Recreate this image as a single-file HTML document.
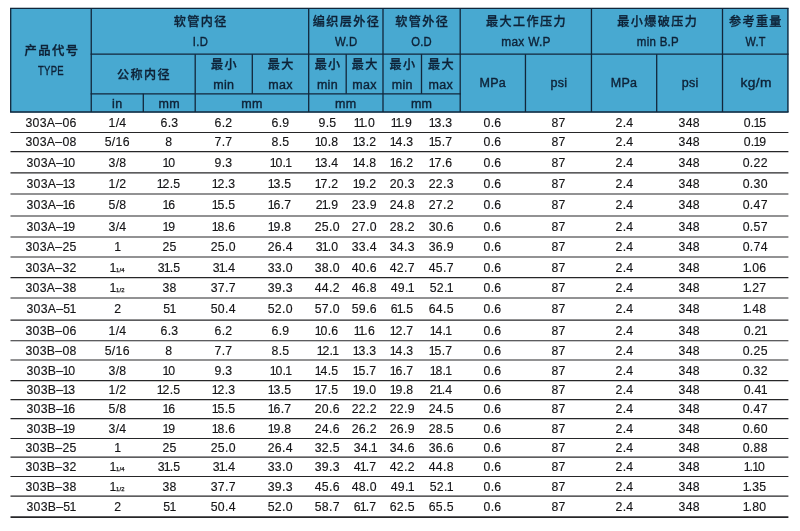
<!DOCTYPE html>
<html lang="zh-CN">
<head>
<meta charset="utf-8">
<title>303A / 303B</title>
<style>
html,body{margin:0;padding:0;background:#fff;}
body{width:800px;height:531px;position:relative;overflow:hidden;
 font-family:"Liberation Sans","Noto Sans CJK SC",sans-serif;color:#1d1d1f;}
#g{position:absolute;left:0;top:0;}
.c{position:absolute;text-align:center;white-space:nowrap;font-size:13px;line-height:14px;height:14px;letter-spacing:0.3px;color:#141416;-webkit-text-stroke:0.15px #141416;}
.h{position:absolute;text-align:center;white-space:nowrap;color:#0e2237;}
.z{font-size:12.1px;line-height:16px;height:16px;font-weight:500;letter-spacing:1.4px;-webkit-text-stroke:0.3px #0e2237;}
.z>span{margin-right:-1.4px;}
.e{font-size:12.5px;line-height:14px;height:14px;letter-spacing:0.3px;-webkit-text-stroke:0.38px #0e2237;}
.c span,.h span{display:inline-block;transform-origin:50% 50%;}
.c>span{transform:scaleX(0.945);}
.f{font-size:6.2px;letter-spacing:0.2px;margin-left:0.8px;-webkit-text-stroke:0.25px #141416;}
.c i{font-style:normal;margin:0 -1.4px 0 -1.0px;}
</style>
</head>
<body>
<svg id="g" width="800" height="531" viewBox="0 0 800 531">
<rect x="10.20" y="7.95" width="778.20" height="104.55" fill="#48a9d1"/>
<g stroke="#12263a" stroke-width="1.3" stroke-linecap="square" fill="none">
<path d="M10.7 8.45H787.9"/>
<path d="M91.25 54.2H787.9"/>
<path d="M91.25 93.8H460.2"/>
<path d="M10.7 112.0H787.9"/>
<path d="M10.7 8.45V112.0" stroke-linecap="butt"/>
<path d="M91.25 8.45V112.0" stroke-linecap="butt"/>
<path d="M308.7 8.45V112.0" stroke-linecap="butt"/>
<path d="M383.0 8.45V112.0" stroke-linecap="butt"/>
<path d="M460.2 8.45V112.0" stroke-linecap="butt"/>
<path d="M591.45 8.45V112.0" stroke-linecap="butt"/>
<path d="M722.5 8.45V112.0" stroke-linecap="butt"/>
<path d="M787.9 8.45V112.0" stroke-linecap="butt"/>
<path d="M195.2 54.2V112.0" stroke-linecap="butt"/>
<path d="M525.45 54.2V112.0" stroke-linecap="butt"/>
<path d="M656.7 54.2V112.0" stroke-linecap="butt"/>
<path d="M252.3 54.2V93.8" stroke-linecap="butt"/>
<path d="M346.2 54.2V93.8" stroke-linecap="butt"/>
<path d="M421.5 54.2V93.8" stroke-linecap="butt"/>
<path d="M143.3 93.8V112.0" stroke-linecap="butt"/>
</g>
<g stroke="#262628" stroke-width="1.2" fill="none">
<path d="M10.5 132.5H788.4"/>
<path d="M10.5 151.7H788.4"/>
<path d="M10.5 172.8H788.4"/>
<path d="M10.5 194H788.4"/>
<path d="M10.5 216H788.4"/>
<path d="M10.5 237H788.4"/>
<path d="M10.5 257H788.4"/>
<path d="M10.5 277.6H788.4"/>
<path d="M10.5 298H788.4"/>
<path d="M10.5 320.05H788.4"/>
<path d="M10.5 340.75H788.4"/>
<path d="M10.5 360H788.4"/>
<path d="M10.5 380.6H788.4"/>
<path d="M10.5 399.6H788.4"/>
<path d="M10.5 418.6H788.4"/>
<path d="M10.5 438.5H788.4"/>
<path d="M10.5 457.2H788.4"/>
<path d="M10.5 476.5H788.4"/>
<path d="M10.5 496.2H788.4"/>
<path d="M10.5 517.1H788.4" stroke-width="1.7"/>
</g>
</svg>
<div class="h z" style="left:10.70px;width:80.55px;top:43.00px"><span style="transform:scaleX(1.020)">产品代号</span></div>
<div class="h e" style="left:10.70px;width:80.55px;top:64.00px"><span style="transform:scaleX(0.760)">TYPE</span></div>
<div class="h z" style="left:91.25px;width:217.45px;top:13.50px"><span>软管内径</span></div>
<div class="h e" style="left:91.25px;width:217.45px;top:35.00px"><span style="transform:scaleX(0.900)">I.D</span></div>
<div class="h z" style="left:308.70px;width:74.30px;top:13.50px"><span>编织层外径</span></div>
<div class="h e" style="left:309.10px;width:74.30px;top:35.00px"><span style="transform:scaleX(0.910)">W.D</span></div>
<div class="h z" style="left:383.00px;width:77.20px;top:13.50px"><span>软管外径</span></div>
<div class="h e" style="left:383.30px;width:77.20px;top:35.00px"><span style="transform:scaleX(0.900)">O.D</span></div>
<div class="h z" style="left:460.20px;width:131.25px;top:13.50px"><span>最大工作压力</span></div>
<div class="h e" style="left:460.70px;width:131.25px;top:35.00px"><span style="transform:scaleX(0.950)">max W.P</span></div>
<div class="h z" style="left:591.45px;width:131.05px;top:13.50px"><span>最小爆破压力</span></div>
<div class="h e" style="left:592.25px;width:131.05px;top:35.00px"><span style="transform:scaleX(0.920)">min B.P</span></div>
<div class="h z" style="left:722.50px;width:65.40px;top:13.50px"><span>参考重量</span></div>
<div class="h e" style="left:723.00px;width:65.40px;top:35.00px"><span style="transform:scaleX(0.875)">W.T</span></div>
<div class="h z" style="left:91.25px;width:103.95px;top:66.50px"><span>公称内径</span></div>
<div class="h e" style="left:91.25px;width:52.05px;top:96.50px"><span>in</span></div>
<div class="h e" style="left:143.30px;width:51.90px;top:96.50px"><span>mm</span></div>
<div class="h z" style="left:195.20px;width:57.10px;top:56.50px"><span>最小</span></div>
<div class="h e" style="left:195.20px;width:57.10px;top:77.50px"><span>min</span></div>
<div class="h z" style="left:252.30px;width:56.40px;top:56.50px"><span>最大</span></div>
<div class="h e" style="left:252.30px;width:56.40px;top:77.50px"><span>max</span></div>
<div class="h e" style="left:195.20px;width:113.50px;top:96.50px"><span>mm</span></div>
<div class="h z" style="left:308.70px;width:37.50px;top:56.50px"><span>最小</span></div>
<div class="h e" style="left:308.70px;width:37.50px;top:77.50px"><span>min</span></div>
<div class="h z" style="left:346.20px;width:36.80px;top:56.50px"><span>最大</span></div>
<div class="h e" style="left:346.20px;width:36.80px;top:77.50px"><span>max</span></div>
<div class="h e" style="left:308.70px;width:74.30px;top:96.50px"><span>mm</span></div>
<div class="h z" style="left:383.00px;width:38.50px;top:56.50px"><span>最小</span></div>
<div class="h e" style="left:383.00px;width:38.50px;top:77.50px"><span>min</span></div>
<div class="h z" style="left:421.50px;width:38.70px;top:56.50px"><span>最大</span></div>
<div class="h e" style="left:421.50px;width:38.70px;top:77.50px"><span>max</span></div>
<div class="h e" style="left:383.00px;width:77.20px;top:96.50px"><span>mm</span></div>
<div class="h e" style="left:460.20px;width:65.25px;top:76.30px"><span>MPa</span></div>
<div class="h e" style="left:525.95px;width:66.00px;top:76.30px"><span>psi</span></div>
<div class="h e" style="left:591.45px;width:65.25px;top:76.30px"><span>MPa</span></div>
<div class="h e" style="left:657.20px;width:65.80px;top:76.30px"><span>psi</span></div>
<div class="h e" style="left:723.30px;width:65.40px;top:76.30px"><span style="transform:scaleX(1.100)">kg/m</span></div>
<div class="c" style="left:10.70px;width:80.55px;top:116.25px"><span>303A–06</span></div>
<div class="c" style="left:91.25px;width:52.05px;top:116.25px"><span>1/4</span></div>
<div class="c" style="left:143.30px;width:51.90px;top:116.25px"><span>6.3</span></div>
<div class="c" style="left:195.20px;width:57.10px;top:116.25px"><span>6.2</span></div>
<div class="c" style="left:252.30px;width:56.40px;top:116.25px"><span>6.9</span></div>
<div class="c" style="left:308.70px;width:37.50px;top:116.25px"><span>9.5</span></div>
<div class="c" style="left:346.20px;width:36.80px;top:116.25px"><span><i>1</i><i>1</i>.0</span></div>
<div class="c" style="left:383.00px;width:38.50px;top:116.25px"><span><i>1</i><i>1</i>.9</span></div>
<div class="c" style="left:421.50px;width:38.70px;top:116.25px"><span><i>1</i>3.3</span></div>
<div class="c" style="left:460.20px;width:65.25px;top:116.25px"><span>0.6</span></div>
<div class="c" style="left:525.45px;width:66.00px;top:116.25px"><span>87</span></div>
<div class="c" style="left:591.45px;width:65.25px;top:116.25px"><span>2.4</span></div>
<div class="c" style="left:656.70px;width:65.80px;top:116.25px"><span>348</span></div>
<div class="c" style="left:722.50px;width:65.40px;top:116.25px"><span>0.<i>1</i>5</span></div>
<div class="c" style="left:10.70px;width:80.55px;top:135.40px"><span>303A–08</span></div>
<div class="c" style="left:91.25px;width:52.05px;top:135.40px"><span>5/16</span></div>
<div class="c" style="left:143.30px;width:51.90px;top:135.40px"><span>8</span></div>
<div class="c" style="left:195.20px;width:57.10px;top:135.40px"><span>7.7</span></div>
<div class="c" style="left:252.30px;width:56.40px;top:135.40px"><span>8.5</span></div>
<div class="c" style="left:308.70px;width:37.50px;top:135.40px"><span><i>1</i>0.8</span></div>
<div class="c" style="left:346.20px;width:36.80px;top:135.40px"><span><i>1</i>3.2</span></div>
<div class="c" style="left:383.00px;width:38.50px;top:135.40px"><span><i>1</i>4.3</span></div>
<div class="c" style="left:421.50px;width:38.70px;top:135.40px"><span><i>1</i>5.7</span></div>
<div class="c" style="left:460.20px;width:65.25px;top:135.40px"><span>0.6</span></div>
<div class="c" style="left:525.45px;width:66.00px;top:135.40px"><span>87</span></div>
<div class="c" style="left:591.45px;width:65.25px;top:135.40px"><span>2.4</span></div>
<div class="c" style="left:656.70px;width:65.80px;top:135.40px"><span>348</span></div>
<div class="c" style="left:722.50px;width:65.40px;top:135.40px"><span>0.<i>1</i>9</span></div>
<div class="c" style="left:10.70px;width:80.55px;top:155.55px"><span>303A–<i>1</i>0</span></div>
<div class="c" style="left:91.25px;width:52.05px;top:155.55px"><span>3/8</span></div>
<div class="c" style="left:143.30px;width:51.90px;top:155.55px"><span><i>1</i>0</span></div>
<div class="c" style="left:195.20px;width:57.10px;top:155.55px"><span>9.3</span></div>
<div class="c" style="left:252.30px;width:56.40px;top:155.55px"><span><i>1</i>0.<i>1</i></span></div>
<div class="c" style="left:308.70px;width:37.50px;top:155.55px"><span><i>1</i>3.4</span></div>
<div class="c" style="left:346.20px;width:36.80px;top:155.55px"><span><i>1</i>4.8</span></div>
<div class="c" style="left:383.00px;width:38.50px;top:155.55px"><span><i>1</i>6.2</span></div>
<div class="c" style="left:421.50px;width:38.70px;top:155.55px"><span><i>1</i>7.6</span></div>
<div class="c" style="left:460.20px;width:65.25px;top:155.55px"><span>0.6</span></div>
<div class="c" style="left:525.45px;width:66.00px;top:155.55px"><span>87</span></div>
<div class="c" style="left:591.45px;width:65.25px;top:155.55px"><span>2.4</span></div>
<div class="c" style="left:656.70px;width:65.80px;top:155.55px"><span>348</span></div>
<div class="c" style="left:722.50px;width:65.40px;top:155.55px"><span>0.22</span></div>
<div class="c" style="left:10.70px;width:80.55px;top:176.70px"><span>303A–<i>1</i>3</span></div>
<div class="c" style="left:91.25px;width:52.05px;top:176.70px"><span>1/2</span></div>
<div class="c" style="left:143.30px;width:51.90px;top:176.70px"><span><i>1</i>2.5</span></div>
<div class="c" style="left:195.20px;width:57.10px;top:176.70px"><span><i>1</i>2.3</span></div>
<div class="c" style="left:252.30px;width:56.40px;top:176.70px"><span><i>1</i>3.5</span></div>
<div class="c" style="left:308.70px;width:37.50px;top:176.70px"><span><i>1</i>7.2</span></div>
<div class="c" style="left:346.20px;width:36.80px;top:176.70px"><span><i>1</i>9.2</span></div>
<div class="c" style="left:383.00px;width:38.50px;top:176.70px"><span>20.3</span></div>
<div class="c" style="left:421.50px;width:38.70px;top:176.70px"><span>22.3</span></div>
<div class="c" style="left:460.20px;width:65.25px;top:176.70px"><span>0.6</span></div>
<div class="c" style="left:525.45px;width:66.00px;top:176.70px"><span>87</span></div>
<div class="c" style="left:591.45px;width:65.25px;top:176.70px"><span>2.4</span></div>
<div class="c" style="left:656.70px;width:65.80px;top:176.70px"><span>348</span></div>
<div class="c" style="left:722.50px;width:65.40px;top:176.70px"><span>0.30</span></div>
<div class="c" style="left:10.70px;width:80.55px;top:198.30px"><span>303A–<i>1</i>6</span></div>
<div class="c" style="left:91.25px;width:52.05px;top:198.30px"><span>5/8</span></div>
<div class="c" style="left:143.30px;width:51.90px;top:198.30px"><span><i>1</i>6</span></div>
<div class="c" style="left:195.20px;width:57.10px;top:198.30px"><span><i>1</i>5.5</span></div>
<div class="c" style="left:252.30px;width:56.40px;top:198.30px"><span><i>1</i>6.7</span></div>
<div class="c" style="left:308.70px;width:37.50px;top:198.30px"><span>2<i>1</i>.9</span></div>
<div class="c" style="left:346.20px;width:36.80px;top:198.30px"><span>23.9</span></div>
<div class="c" style="left:383.00px;width:38.50px;top:198.30px"><span>24.8</span></div>
<div class="c" style="left:421.50px;width:38.70px;top:198.30px"><span>27.2</span></div>
<div class="c" style="left:460.20px;width:65.25px;top:198.30px"><span>0.6</span></div>
<div class="c" style="left:525.45px;width:66.00px;top:198.30px"><span>87</span></div>
<div class="c" style="left:591.45px;width:65.25px;top:198.30px"><span>2.4</span></div>
<div class="c" style="left:656.70px;width:65.80px;top:198.30px"><span>348</span></div>
<div class="c" style="left:722.50px;width:65.40px;top:198.30px"><span>0.47</span></div>
<div class="c" style="left:10.70px;width:80.55px;top:219.80px"><span>303A–<i>1</i>9</span></div>
<div class="c" style="left:91.25px;width:52.05px;top:219.80px"><span>3/4</span></div>
<div class="c" style="left:143.30px;width:51.90px;top:219.80px"><span><i>1</i>9</span></div>
<div class="c" style="left:195.20px;width:57.10px;top:219.80px"><span><i>1</i>8.6</span></div>
<div class="c" style="left:252.30px;width:56.40px;top:219.80px"><span><i>1</i>9.8</span></div>
<div class="c" style="left:308.70px;width:37.50px;top:219.80px"><span>25.0</span></div>
<div class="c" style="left:346.20px;width:36.80px;top:219.80px"><span>27.0</span></div>
<div class="c" style="left:383.00px;width:38.50px;top:219.80px"><span>28.2</span></div>
<div class="c" style="left:421.50px;width:38.70px;top:219.80px"><span>30.6</span></div>
<div class="c" style="left:460.20px;width:65.25px;top:219.80px"><span>0.6</span></div>
<div class="c" style="left:525.45px;width:66.00px;top:219.80px"><span>87</span></div>
<div class="c" style="left:591.45px;width:65.25px;top:219.80px"><span>2.4</span></div>
<div class="c" style="left:656.70px;width:65.80px;top:219.80px"><span>348</span></div>
<div class="c" style="left:722.50px;width:65.40px;top:219.80px"><span>0.57</span></div>
<div class="c" style="left:10.70px;width:80.55px;top:240.30px"><span>303A–25</span></div>
<div class="c" style="left:91.25px;width:52.05px;top:240.30px"><span>1</span></div>
<div class="c" style="left:143.30px;width:51.90px;top:240.30px"><span>25</span></div>
<div class="c" style="left:195.20px;width:57.10px;top:240.30px"><span>25.0</span></div>
<div class="c" style="left:252.30px;width:56.40px;top:240.30px"><span>26.4</span></div>
<div class="c" style="left:308.70px;width:37.50px;top:240.30px"><span>3<i>1</i>.0</span></div>
<div class="c" style="left:346.20px;width:36.80px;top:240.30px"><span>33.4</span></div>
<div class="c" style="left:383.00px;width:38.50px;top:240.30px"><span>34.3</span></div>
<div class="c" style="left:421.50px;width:38.70px;top:240.30px"><span>36.9</span></div>
<div class="c" style="left:460.20px;width:65.25px;top:240.30px"><span>0.6</span></div>
<div class="c" style="left:525.45px;width:66.00px;top:240.30px"><span>87</span></div>
<div class="c" style="left:591.45px;width:65.25px;top:240.30px"><span>2.4</span></div>
<div class="c" style="left:656.70px;width:65.80px;top:240.30px"><span>348</span></div>
<div class="c" style="left:722.50px;width:65.40px;top:240.30px"><span>0.74</span></div>
<div class="c" style="left:10.70px;width:80.55px;top:260.60px"><span>303A–32</span></div>
<div class="c" style="left:91.25px;width:52.05px;top:260.60px"><span><i>1</i><span class="f">1/4</span></span></div>
<div class="c" style="left:143.30px;width:51.90px;top:260.60px"><span>3<i>1</i>.5</span></div>
<div class="c" style="left:195.20px;width:57.10px;top:260.60px"><span>3<i>1</i>.4</span></div>
<div class="c" style="left:252.30px;width:56.40px;top:260.60px"><span>33.0</span></div>
<div class="c" style="left:308.70px;width:37.50px;top:260.60px"><span>38.0</span></div>
<div class="c" style="left:346.20px;width:36.80px;top:260.60px"><span>40.6</span></div>
<div class="c" style="left:383.00px;width:38.50px;top:260.60px"><span>42.7</span></div>
<div class="c" style="left:421.50px;width:38.70px;top:260.60px"><span>45.7</span></div>
<div class="c" style="left:460.20px;width:65.25px;top:260.60px"><span>0.6</span></div>
<div class="c" style="left:525.45px;width:66.00px;top:260.60px"><span>87</span></div>
<div class="c" style="left:591.45px;width:65.25px;top:260.60px"><span>2.4</span></div>
<div class="c" style="left:656.70px;width:65.80px;top:260.60px"><span>348</span></div>
<div class="c" style="left:722.50px;width:65.40px;top:260.60px"><span><i>1</i>.06</span></div>
<div class="c" style="left:10.70px;width:80.55px;top:281.10px"><span>303A–38</span></div>
<div class="c" style="left:91.25px;width:52.05px;top:281.10px"><span><i>1</i><span class="f">1/2</span></span></div>
<div class="c" style="left:143.30px;width:51.90px;top:281.10px"><span>38</span></div>
<div class="c" style="left:195.20px;width:57.10px;top:281.10px"><span>37.7</span></div>
<div class="c" style="left:252.30px;width:56.40px;top:281.10px"><span>39.3</span></div>
<div class="c" style="left:308.70px;width:37.50px;top:281.10px"><span>44.2</span></div>
<div class="c" style="left:346.20px;width:36.80px;top:281.10px"><span>46.8</span></div>
<div class="c" style="left:383.00px;width:38.50px;top:281.10px"><span>49.<i>1</i></span></div>
<div class="c" style="left:421.50px;width:38.70px;top:281.10px"><span>52.<i>1</i></span></div>
<div class="c" style="left:460.20px;width:65.25px;top:281.10px"><span>0.6</span></div>
<div class="c" style="left:525.45px;width:66.00px;top:281.10px"><span>87</span></div>
<div class="c" style="left:591.45px;width:65.25px;top:281.10px"><span>2.4</span></div>
<div class="c" style="left:656.70px;width:65.80px;top:281.10px"><span>348</span></div>
<div class="c" style="left:722.50px;width:65.40px;top:281.10px"><span><i>1</i>.27</span></div>
<div class="c" style="left:10.70px;width:80.55px;top:302.32px"><span>303A–5<i>1</i></span></div>
<div class="c" style="left:91.25px;width:52.05px;top:302.32px"><span>2</span></div>
<div class="c" style="left:143.30px;width:51.90px;top:302.32px"><span>5<i>1</i></span></div>
<div class="c" style="left:195.20px;width:57.10px;top:302.32px"><span>50.4</span></div>
<div class="c" style="left:252.30px;width:56.40px;top:302.32px"><span>52.0</span></div>
<div class="c" style="left:308.70px;width:37.50px;top:302.32px"><span>57.0</span></div>
<div class="c" style="left:346.20px;width:36.80px;top:302.32px"><span>59.6</span></div>
<div class="c" style="left:383.00px;width:38.50px;top:302.32px"><span>6<i>1</i>.5</span></div>
<div class="c" style="left:421.50px;width:38.70px;top:302.32px"><span>64.5</span></div>
<div class="c" style="left:460.20px;width:65.25px;top:302.32px"><span>0.6</span></div>
<div class="c" style="left:525.45px;width:66.00px;top:302.32px"><span>87</span></div>
<div class="c" style="left:591.45px;width:65.25px;top:302.32px"><span>2.4</span></div>
<div class="c" style="left:656.70px;width:65.80px;top:302.32px"><span>348</span></div>
<div class="c" style="left:722.50px;width:65.40px;top:302.32px"><span><i>1</i>.48</span></div>
<div class="c" style="left:10.70px;width:80.55px;top:323.70px"><span>303B–06</span></div>
<div class="c" style="left:91.25px;width:52.05px;top:323.70px"><span>1/4</span></div>
<div class="c" style="left:143.30px;width:51.90px;top:323.70px"><span>6.3</span></div>
<div class="c" style="left:195.20px;width:57.10px;top:323.70px"><span>6.2</span></div>
<div class="c" style="left:252.30px;width:56.40px;top:323.70px"><span>6.9</span></div>
<div class="c" style="left:308.70px;width:37.50px;top:323.70px"><span><i>1</i>0.6</span></div>
<div class="c" style="left:346.20px;width:36.80px;top:323.70px"><span><i>1</i><i>1</i>.6</span></div>
<div class="c" style="left:383.00px;width:38.50px;top:323.70px"><span><i>1</i>2.7</span></div>
<div class="c" style="left:421.50px;width:38.70px;top:323.70px"><span><i>1</i>4.<i>1</i></span></div>
<div class="c" style="left:460.20px;width:65.25px;top:323.70px"><span>0.6</span></div>
<div class="c" style="left:525.45px;width:66.00px;top:323.70px"><span>87</span></div>
<div class="c" style="left:591.45px;width:65.25px;top:323.70px"><span>2.4</span></div>
<div class="c" style="left:656.70px;width:65.80px;top:323.70px"><span>348</span></div>
<div class="c" style="left:722.50px;width:65.40px;top:323.70px"><span>0.2<i>1</i></span></div>
<div class="c" style="left:10.70px;width:80.55px;top:343.68px"><span>303B–08</span></div>
<div class="c" style="left:91.25px;width:52.05px;top:343.68px"><span>5/16</span></div>
<div class="c" style="left:143.30px;width:51.90px;top:343.68px"><span>8</span></div>
<div class="c" style="left:195.20px;width:57.10px;top:343.68px"><span>7.7</span></div>
<div class="c" style="left:252.30px;width:56.40px;top:343.68px"><span>8.5</span></div>
<div class="c" style="left:308.70px;width:37.50px;top:343.68px"><span><i>1</i>2.<i>1</i></span></div>
<div class="c" style="left:346.20px;width:36.80px;top:343.68px"><span><i>1</i>3.3</span></div>
<div class="c" style="left:383.00px;width:38.50px;top:343.68px"><span><i>1</i>4.3</span></div>
<div class="c" style="left:421.50px;width:38.70px;top:343.68px"><span><i>1</i>5.7</span></div>
<div class="c" style="left:460.20px;width:65.25px;top:343.68px"><span>0.6</span></div>
<div class="c" style="left:525.45px;width:66.00px;top:343.68px"><span>87</span></div>
<div class="c" style="left:591.45px;width:65.25px;top:343.68px"><span>2.4</span></div>
<div class="c" style="left:656.70px;width:65.80px;top:343.68px"><span>348</span></div>
<div class="c" style="left:722.50px;width:65.40px;top:343.68px"><span>0.25</span></div>
<div class="c" style="left:10.70px;width:80.55px;top:363.60px"><span>303B–<i>1</i>0</span></div>
<div class="c" style="left:91.25px;width:52.05px;top:363.60px"><span>3/8</span></div>
<div class="c" style="left:143.30px;width:51.90px;top:363.60px"><span><i>1</i>0</span></div>
<div class="c" style="left:195.20px;width:57.10px;top:363.60px"><span>9.3</span></div>
<div class="c" style="left:252.30px;width:56.40px;top:363.60px"><span><i>1</i>0.<i>1</i></span></div>
<div class="c" style="left:308.70px;width:37.50px;top:363.60px"><span><i>1</i>4.5</span></div>
<div class="c" style="left:346.20px;width:36.80px;top:363.60px"><span><i>1</i>5.7</span></div>
<div class="c" style="left:383.00px;width:38.50px;top:363.60px"><span><i>1</i>6.7</span></div>
<div class="c" style="left:421.50px;width:38.70px;top:363.60px"><span><i>1</i>8.<i>1</i></span></div>
<div class="c" style="left:460.20px;width:65.25px;top:363.60px"><span>0.6</span></div>
<div class="c" style="left:525.45px;width:66.00px;top:363.60px"><span>87</span></div>
<div class="c" style="left:591.45px;width:65.25px;top:363.60px"><span>2.4</span></div>
<div class="c" style="left:656.70px;width:65.80px;top:363.60px"><span>348</span></div>
<div class="c" style="left:722.50px;width:65.40px;top:363.60px"><span>0.32</span></div>
<div class="c" style="left:10.70px;width:80.55px;top:383.40px"><span>303B–<i>1</i>3</span></div>
<div class="c" style="left:91.25px;width:52.05px;top:383.40px"><span>1/2</span></div>
<div class="c" style="left:143.30px;width:51.90px;top:383.40px"><span><i>1</i>2.5</span></div>
<div class="c" style="left:195.20px;width:57.10px;top:383.40px"><span><i>1</i>2.3</span></div>
<div class="c" style="left:252.30px;width:56.40px;top:383.40px"><span><i>1</i>3.5</span></div>
<div class="c" style="left:308.70px;width:37.50px;top:383.40px"><span><i>1</i>7.5</span></div>
<div class="c" style="left:346.20px;width:36.80px;top:383.40px"><span><i>1</i>9.0</span></div>
<div class="c" style="left:383.00px;width:38.50px;top:383.40px"><span><i>1</i>9.8</span></div>
<div class="c" style="left:421.50px;width:38.70px;top:383.40px"><span>2<i>1</i>.4</span></div>
<div class="c" style="left:460.20px;width:65.25px;top:383.40px"><span>0.6</span></div>
<div class="c" style="left:525.45px;width:66.00px;top:383.40px"><span>87</span></div>
<div class="c" style="left:591.45px;width:65.25px;top:383.40px"><span>2.4</span></div>
<div class="c" style="left:656.70px;width:65.80px;top:383.40px"><span>348</span></div>
<div class="c" style="left:722.50px;width:65.40px;top:383.40px"><span>0.4<i>1</i></span></div>
<div class="c" style="left:10.70px;width:80.55px;top:402.40px"><span>303B–<i>1</i>6</span></div>
<div class="c" style="left:91.25px;width:52.05px;top:402.40px"><span>5/8</span></div>
<div class="c" style="left:143.30px;width:51.90px;top:402.40px"><span><i>1</i>6</span></div>
<div class="c" style="left:195.20px;width:57.10px;top:402.40px"><span><i>1</i>5.5</span></div>
<div class="c" style="left:252.30px;width:56.40px;top:402.40px"><span><i>1</i>6.7</span></div>
<div class="c" style="left:308.70px;width:37.50px;top:402.40px"><span>20.6</span></div>
<div class="c" style="left:346.20px;width:36.80px;top:402.40px"><span>22.2</span></div>
<div class="c" style="left:383.00px;width:38.50px;top:402.40px"><span>22.9</span></div>
<div class="c" style="left:421.50px;width:38.70px;top:402.40px"><span>24.5</span></div>
<div class="c" style="left:460.20px;width:65.25px;top:402.40px"><span>0.6</span></div>
<div class="c" style="left:525.45px;width:66.00px;top:402.40px"><span>87</span></div>
<div class="c" style="left:591.45px;width:65.25px;top:402.40px"><span>2.4</span></div>
<div class="c" style="left:656.70px;width:65.80px;top:402.40px"><span>348</span></div>
<div class="c" style="left:722.50px;width:65.40px;top:402.40px"><span>0.47</span></div>
<div class="c" style="left:10.70px;width:80.55px;top:421.85px"><span>303B–<i>1</i>9</span></div>
<div class="c" style="left:91.25px;width:52.05px;top:421.85px"><span>3/4</span></div>
<div class="c" style="left:143.30px;width:51.90px;top:421.85px"><span><i>1</i>9</span></div>
<div class="c" style="left:195.20px;width:57.10px;top:421.85px"><span><i>1</i>8.6</span></div>
<div class="c" style="left:252.30px;width:56.40px;top:421.85px"><span><i>1</i>9.8</span></div>
<div class="c" style="left:308.70px;width:37.50px;top:421.85px"><span>24.6</span></div>
<div class="c" style="left:346.20px;width:36.80px;top:421.85px"><span>26.2</span></div>
<div class="c" style="left:383.00px;width:38.50px;top:421.85px"><span>26.9</span></div>
<div class="c" style="left:421.50px;width:38.70px;top:421.85px"><span>28.5</span></div>
<div class="c" style="left:460.20px;width:65.25px;top:421.85px"><span>0.6</span></div>
<div class="c" style="left:525.45px;width:66.00px;top:421.85px"><span>87</span></div>
<div class="c" style="left:591.45px;width:65.25px;top:421.85px"><span>2.4</span></div>
<div class="c" style="left:656.70px;width:65.80px;top:421.85px"><span>348</span></div>
<div class="c" style="left:722.50px;width:65.40px;top:421.85px"><span>0.60</span></div>
<div class="c" style="left:10.70px;width:80.55px;top:441.15px"><span>303B–25</span></div>
<div class="c" style="left:91.25px;width:52.05px;top:441.15px"><span>1</span></div>
<div class="c" style="left:143.30px;width:51.90px;top:441.15px"><span>25</span></div>
<div class="c" style="left:195.20px;width:57.10px;top:441.15px"><span>25.0</span></div>
<div class="c" style="left:252.30px;width:56.40px;top:441.15px"><span>26.4</span></div>
<div class="c" style="left:308.70px;width:37.50px;top:441.15px"><span>32.5</span></div>
<div class="c" style="left:346.20px;width:36.80px;top:441.15px"><span>34.<i>1</i></span></div>
<div class="c" style="left:383.00px;width:38.50px;top:441.15px"><span>34.6</span></div>
<div class="c" style="left:421.50px;width:38.70px;top:441.15px"><span>36.6</span></div>
<div class="c" style="left:460.20px;width:65.25px;top:441.15px"><span>0.6</span></div>
<div class="c" style="left:525.45px;width:66.00px;top:441.15px"><span>87</span></div>
<div class="c" style="left:591.45px;width:65.25px;top:441.15px"><span>2.4</span></div>
<div class="c" style="left:656.70px;width:65.80px;top:441.15px"><span>348</span></div>
<div class="c" style="left:722.50px;width:65.40px;top:441.15px"><span>0.88</span></div>
<div class="c" style="left:10.70px;width:80.55px;top:460.15px"><span>303B–32</span></div>
<div class="c" style="left:91.25px;width:52.05px;top:460.15px"><span><i>1</i><span class="f">1/4</span></span></div>
<div class="c" style="left:143.30px;width:51.90px;top:460.15px"><span>3<i>1</i>.5</span></div>
<div class="c" style="left:195.20px;width:57.10px;top:460.15px"><span>3<i>1</i>.4</span></div>
<div class="c" style="left:252.30px;width:56.40px;top:460.15px"><span>33.0</span></div>
<div class="c" style="left:308.70px;width:37.50px;top:460.15px"><span>39.3</span></div>
<div class="c" style="left:346.20px;width:36.80px;top:460.15px"><span>4<i>1</i>.7</span></div>
<div class="c" style="left:383.00px;width:38.50px;top:460.15px"><span>42.2</span></div>
<div class="c" style="left:421.50px;width:38.70px;top:460.15px"><span>44.8</span></div>
<div class="c" style="left:460.20px;width:65.25px;top:460.15px"><span>0.6</span></div>
<div class="c" style="left:525.45px;width:66.00px;top:460.15px"><span>87</span></div>
<div class="c" style="left:591.45px;width:65.25px;top:460.15px"><span>2.4</span></div>
<div class="c" style="left:656.70px;width:65.80px;top:460.15px"><span>348</span></div>
<div class="c" style="left:722.50px;width:65.40px;top:460.15px"><span><i>1</i>.<i>1</i>0</span></div>
<div class="c" style="left:10.70px;width:80.55px;top:479.65px"><span>303B–38</span></div>
<div class="c" style="left:91.25px;width:52.05px;top:479.65px"><span><i>1</i><span class="f">1/2</span></span></div>
<div class="c" style="left:143.30px;width:51.90px;top:479.65px"><span>38</span></div>
<div class="c" style="left:195.20px;width:57.10px;top:479.65px"><span>37.7</span></div>
<div class="c" style="left:252.30px;width:56.40px;top:479.65px"><span>39.3</span></div>
<div class="c" style="left:308.70px;width:37.50px;top:479.65px"><span>45.6</span></div>
<div class="c" style="left:346.20px;width:36.80px;top:479.65px"><span>48.0</span></div>
<div class="c" style="left:383.00px;width:38.50px;top:479.65px"><span>49.<i>1</i></span></div>
<div class="c" style="left:421.50px;width:38.70px;top:479.65px"><span>52.<i>1</i></span></div>
<div class="c" style="left:460.20px;width:65.25px;top:479.65px"><span>0.6</span></div>
<div class="c" style="left:525.45px;width:66.00px;top:479.65px"><span>87</span></div>
<div class="c" style="left:591.45px;width:65.25px;top:479.65px"><span>2.4</span></div>
<div class="c" style="left:656.70px;width:65.80px;top:479.65px"><span>348</span></div>
<div class="c" style="left:722.50px;width:65.40px;top:479.65px"><span><i>1</i>.35</span></div>
<div class="c" style="left:10.70px;width:80.55px;top:499.95px"><span>303B–5<i>1</i></span></div>
<div class="c" style="left:91.25px;width:52.05px;top:499.95px"><span>2</span></div>
<div class="c" style="left:143.30px;width:51.90px;top:499.95px"><span>5<i>1</i></span></div>
<div class="c" style="left:195.20px;width:57.10px;top:499.95px"><span>50.4</span></div>
<div class="c" style="left:252.30px;width:56.40px;top:499.95px"><span>52.0</span></div>
<div class="c" style="left:308.70px;width:37.50px;top:499.95px"><span>58.7</span></div>
<div class="c" style="left:346.20px;width:36.80px;top:499.95px"><span>6<i>1</i>.7</span></div>
<div class="c" style="left:383.00px;width:38.50px;top:499.95px"><span>62.5</span></div>
<div class="c" style="left:421.50px;width:38.70px;top:499.95px"><span>65.5</span></div>
<div class="c" style="left:460.20px;width:65.25px;top:499.95px"><span>0.6</span></div>
<div class="c" style="left:525.45px;width:66.00px;top:499.95px"><span>87</span></div>
<div class="c" style="left:591.45px;width:65.25px;top:499.95px"><span>2.4</span></div>
<div class="c" style="left:656.70px;width:65.80px;top:499.95px"><span>348</span></div>
<div class="c" style="left:722.50px;width:65.40px;top:499.95px"><span><i>1</i>.80</span></div>
</body>
</html>
